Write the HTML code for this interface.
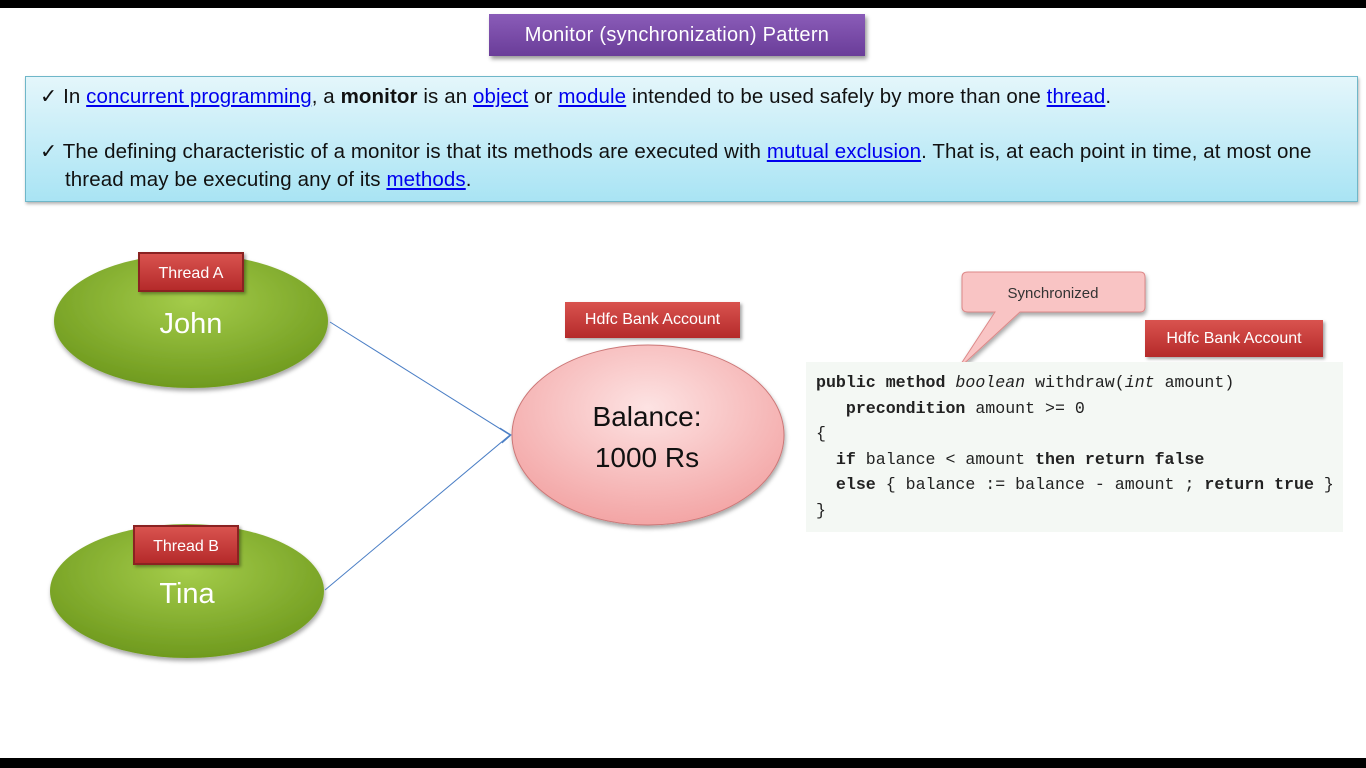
<!DOCTYPE html>
<html><head><meta charset="utf-8"><style>
body{margin:0;width:1366px;height:768px;position:relative;background:#fff;overflow:hidden;font-family:"Liberation Sans",sans-serif}
.abs{position:absolute}
a{color:#0000ee;text-decoration:underline}
.lbl{position:absolute;background:linear-gradient(#d9534f,#b52a2a);color:#fff;font-size:16px;text-align:center;box-shadow:2px 2px 3px rgba(0,0,0,.35)}
.code{position:absolute;left:806px;top:362px;width:537px;height:170px;background:#f4f8f4}
.code pre{margin:0;position:absolute;left:10px;top:8px;font-family:"Liberation Mono",monospace;font-size:16.6px;line-height:25.5px;color:#222}
</style></head><body>
<div class="abs" style="left:0;top:0;width:1366px;height:8px;background:#000"></div>
<div class="abs" style="left:0;top:758px;width:1366px;height:10px;background:#000"></div>
<div class="abs" style="left:489px;top:14px;width:376px;height:42px;background:linear-gradient(#8a5cb8,#6a3d99);color:#fff;font-size:20px;letter-spacing:0.3px;line-height:42px;text-align:center;box-shadow:2px 3px 4px rgba(0,0,0,.4)">Monitor (synchronization) Pattern</div>
<div class="abs" style="left:25px;top:76px;width:1331px;height:124px;border:1px solid #6fb7c9;background:linear-gradient(#e4f6fb,#a9e4f4);box-shadow:1px 2px 3px rgba(0,0,0,.3)"></div>
<div class="abs" style="left:40px;top:83px;font-size:20.5px;letter-spacing:0.1px;line-height:28px;color:#111;width:1320px;white-space:nowrap">
<div>✓ In <a>concurrent programming</a>, a <b>monitor</b> is an <a>object</a> or <a>module</a> intended to be used safely by more than one <a>thread</a>.</div>
<div style="margin-top:27px">✓ The defining characteristic of a monitor is that its methods are executed with <a>mutual exclusion</a>. That is, at each point in time, at most one</div>
<div style="padding-left:25px">thread may be executing any of its <a>methods</a>.</div>
</div>
<svg class="abs" style="left:0;top:0" width="1366" height="768">
<defs>
<radialGradient id="g" cx="50%" cy="35%" r="65%"><stop offset="0" stop-color="#a4cc4a"/><stop offset="1" stop-color="#6f9a1e"/></radialGradient>
<radialGradient id="p" cx="50%" cy="35%" r="65%"><stop offset="0" stop-color="#fde3e3"/><stop offset="1" stop-color="#f3a5a5"/></radialGradient>
<filter id="s"><feDropShadow dx="1" dy="3" stdDeviation="2" flood-opacity=".35"/></filter>
</defs>
<ellipse cx="191" cy="321" rx="137" ry="67" fill="url(#g)" filter="url(#s)"/>
<ellipse cx="187" cy="591" rx="137" ry="67" fill="url(#g)" filter="url(#s)"/>
<ellipse cx="648" cy="435" rx="136" ry="90" fill="url(#p)" stroke="#c77" stroke-width="1" filter="url(#s)"/>
<line x1="330" y1="322" x2="510" y2="435" stroke="#4a7ec5" stroke-width="1"/>
<line x1="325" y1="590" x2="510" y2="435" stroke="#4a7ec5" stroke-width="1"/>
<polyline points="500,428 511,435 502,443" fill="none" stroke="#4a7ec5"/>
<path d="M968,272 H1140 Q1145,272 1145,277 V307 Q1145,312 1140,312 H1020 L957,370 L995,312 H968 Q962,312 962,307 V277 Q962,272 968,272 Z" fill="#f9c4c4" stroke="#d88" filter="url(#s)"/>
<text x="191" y="333" font-size="29" fill="#fff" text-anchor="middle" font-family="Liberation Sans">John</text>
<text x="187" y="603" font-size="29" fill="#fff" text-anchor="middle" font-family="Liberation Sans">Tina</text>
<text x="647" y="426" font-size="28" fill="#111" text-anchor="middle" font-family="Liberation Sans">Balance:</text>
<text x="647" y="467" font-size="28" fill="#111" text-anchor="middle" font-family="Liberation Sans">1000 Rs</text>
<text x="1053" y="298" font-size="15" fill="#333" text-anchor="middle" font-family="Liberation Sans">Synchronized</text>
</svg>
<div class="lbl" style="left:138px;top:252px;width:106px;height:40px;line-height:40px;border:2px solid #8a2222;box-sizing:border-box">Thread A</div>
<div class="lbl" style="left:133px;top:525px;width:106px;height:40px;line-height:40px;border:2px solid #8a2222;box-sizing:border-box">Thread B</div>
<div class="lbl" style="left:565px;top:302px;width:175px;height:36px;line-height:36px">Hdfc Bank Account</div>
<div class="lbl" style="left:1145px;top:320px;width:178px;height:37px;line-height:37px">Hdfc Bank Account</div>
<div class="code"><pre><b>public method</b> <i>boolean</i> withdraw(<i>int</i> amount)
   <b>precondition</b> amount &gt;= 0
{
  <b>if</b> balance &lt; amount <b>then return false</b>
  <b>else</b> { balance := balance - amount ; <b>return true</b> }
}</pre></div>
</body></html>
